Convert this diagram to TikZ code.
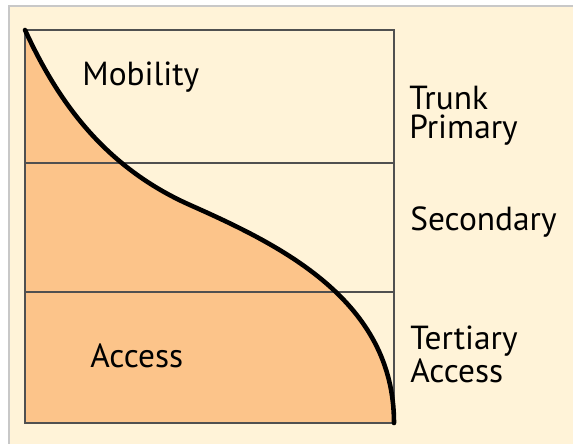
\documentclass[tikz,border=0pt]{standalone}
\usepackage{fontspec}
\setmainfont{PT Sans}
\definecolor{cream}{RGB}{255,243,216}
\definecolor{peach}{RGB}{252,196,138}
\definecolor{frame}{RGB}{80,80,80}
\definecolor{edge}{RGB}{200,200,200}
\usetikzlibrary{positioning}

\tikzset{
  lbl/.style={font=\fontsize{19}{16}\selectfont,text=black,inner sep=0pt,align=left,anchor=base west}
}

\begin{document}
\begin{tikzpicture}[x=0.02cm,y=-0.02cm]
        \useasboundingbox (0,0) rectangle (573,443);
        \fill[white] (0,0) rectangle (573,443);
        \draw[edge,fill=cream,line width=1pt] (9,6) rectangle (580,450);
        % area under the curve
        \fill[peach] (25,30) .. controls (55,95) and (100,165) .. (190,205)
          .. controls (280,245) and (394,300) .. (394,423) -- (25,423) -- cycle;
        \draw[frame,line width=0.85pt] (25,30) rectangle (394,423);
        \draw[frame,line width=0.85pt] (25,163) -- (394,163);
        \draw[frame,line width=0.85pt] (25,292) -- (394,292);
        \draw[black,line width=2.6pt,line cap=round] (25,30) .. controls (55,95) and (100,165) .. (190,205)
          .. controls (280,245) and (394,300) .. (394,423);
        \node[lbl] (mobility) at (82,85) {Mobility};
        \node[lbl] (access) at (90,367) {Access};
        \node[lbl] (trunk) at (409,138) {Trunk\\Primary};
        \node[lbl] (secondary) at (410,230) {Secondary};
        \node[lbl] (tertiary) at (410,382) {Tertiary\\Access};
      \end{tikzpicture}
\end{document}
